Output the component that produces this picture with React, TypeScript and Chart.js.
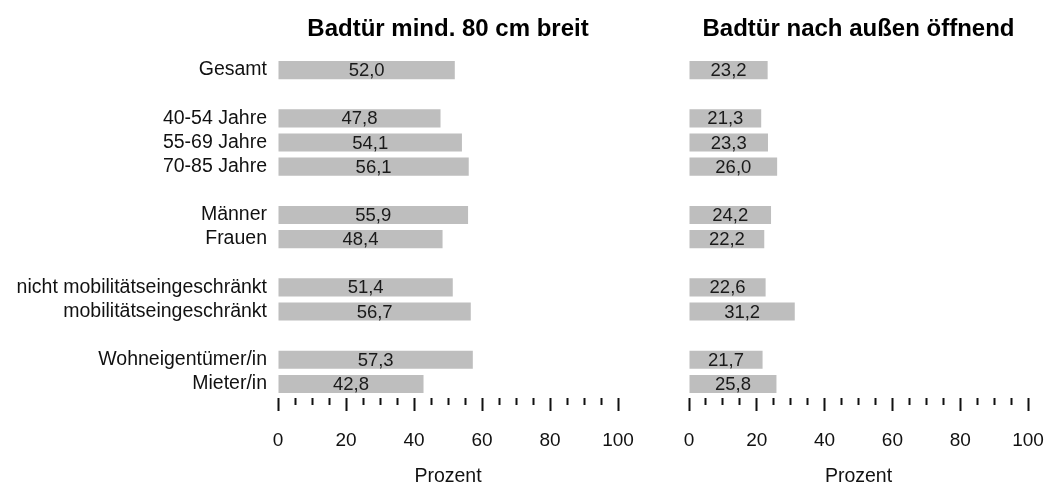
import React, { useEffect, useRef } from "react";
import { Chart, registerables } from "chart.js";

Chart.register(...registerables);

const categories = [
  "Gesamt",
  "",
  "40-54 Jahre",
  "55-69 Jahre",
  "70-85 Jahre",
  "",
  "Männer",
  "Frauen",
  "",
  "nicht mobilitätseingeschränkt",
  "mobilitätseingeschränkt",
  "",
  "Wohneigentümer/in",
  "Mieter/in",
];
const doorWidthValues = [52.0, null, 47.8, 54.1, 56.1, null, 55.9, 48.4, null, 51.4, 56.7, null, 57.3, 42.8];
const doorOutwardValues = [23.2, null, 21.3, 23.3, 26.0, null, 24.2, 22.2, null, 22.6, 31.2, null, 21.7, 25.8];
const panelTitles = ["Badtür mind. 80 cm breit", "Badtür nach außen öffnend"];
const axisTitle = "Prozent";
const axisMin = 0;
const axisMax = 100;
const minorStep = 5;
const majorStep = 20;

const FONT = '"Liberation Sans", Arial, Helvetica, sans-serif';

const valueLabels = {
  id: "valueLabels",
  afterDatasetsDraw(chart: any) {
    const ctx = chart.ctx;
    const meta = chart.getDatasetMeta(0);
    const data = chart.data.datasets[0].data;
    ctx.save();
    ctx.font = `18.5px ${FONT}`;
    ctx.fillStyle = "#1a1a1a";
    ctx.textAlign = "center";
    ctx.textBaseline = "middle";
    meta.data.forEach((bar: any, i: number) => {
      const v = data[i];
      if (v == null) return;
      const p = bar.getProps(["x", "base", "y"], true);
      ctx.fillText(Number(v).toFixed(1).replace(".", ","), (p.x + p.base) / 2, p.y + 1);
    });
    ctx.restore();
  },
};

function makeConfig(values: (number | null)[], title: string, showLabels: boolean, padLeft: number, padRight: number): any {
  return {
    type: "bar",
    data: {
      labels: categories,
      datasets: [
        {
          data: values,
          backgroundColor: "#bebebe",
          borderWidth: 0,
          barPercentage: 0.75,
          categoryPercentage: 1,
        },
      ],
    },
    plugins: [valueLabels],
    options: {
      indexAxis: "y",
      responsive: false,
      animation: false,
      layout: { padding: { left: padLeft, right: padRight, top: 0, bottom: 0 } },
      plugins: {
        legend: { display: false },
        tooltip: { enabled: false },
        title: {
          display: true,
          text: title,
          fullSize: false,
          color: "#000",
          font: { family: FONT, size: 24, weight: "bold", lineHeight: 1.2 },
          padding: { top: 15, bottom: 14.2 },
        },
      },
      scales: {
        y: {
          display: showLabels ? true : false,
          grid: { display: false, drawTicks: false },
          border: { display: false },
          ticks: {
            color: "#111",
            padding: 11,
            font: { family: FONT, size: 19.5 },
            autoSkip: false,
          },
          afterFit(scale: any) {
            if (showLabels) scale.width = 278;
          },
        },
        x: {
          min: axisMin,
          max: axisMax,
          border: { display: false },
          grid: {
            drawOnChartArea: false,
            drawTicks: true,
            tickLength: 15,
            tickWidth: 2,
            tickColor: "#111",
            tickBorderDash: (ctx: any) => {
              const v = ctx.tick ? ctx.tick.value : 0;
              return v % majorStep === 0 ? [0, 2, 13, 100] : [0, 2, 7, 100];
            },
          },
          ticks: {
            stepSize: minorStep,
            autoSkip: false,
            maxRotation: 0,
            padding: 18.5,
            color: "#111",
            font: { family: FONT, size: 19 },
            callback: (v: any) => (Number(v) % majorStep === 0 ? String(v) : ""),
          },
          title: {
            display: true,
            text: axisTitle,
            color: "#111",
            font: { family: FONT, size: 19.5, lineHeight: 1 },
            padding: { top: 0, bottom: -0.5 },
          },
          afterFit(scale: any) {
            scale.height = 90;
            scale.paddingLeft = 0;
            scale.paddingRight = 0;
          },
        },
      },
    },
  };
}

export default function App() {
  const leftRef = useRef<HTMLCanvasElement>(null);
  const rightRef = useRef<HTMLCanvasElement>(null);

  useEffect(() => {
    document.body.style.margin = "0";
    const c1 = new Chart(leftRef.current as HTMLCanvasElement, makeConfig(doorWidthValues, panelTitles[0], true, 0, 32));
    const c2 = new Chart(rightRef.current as HTMLCanvasElement, makeConfig(doorOutwardValues, panelTitles[1], false, 29, 20));
    return () => {
      c1.destroy();
      c2.destroy();
    };
  }, []);

  return (
    <div style={{ position: "relative", width: 1048, height: 486, background: "#fff", overflow: "hidden" }}>
      <canvas ref={leftRef} width={650} height={486} style={{ position: "absolute", left: 0, top: 0, width: 650, height: 486 }} />
      <canvas ref={rightRef} width={388} height={486} style={{ position: "absolute", left: 660, top: 0, width: 388, height: 486 }} />
    </div>
  );
}
